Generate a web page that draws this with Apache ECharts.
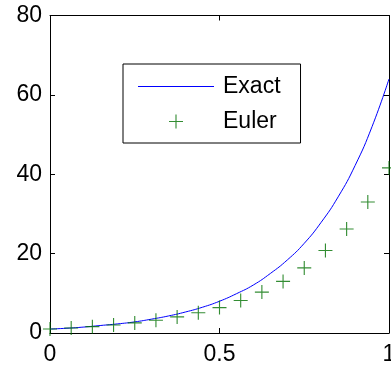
<!DOCTYPE html>
<html>
<head>
<meta charset="utf-8">
<script src="https://cdn.jsdelivr.net/npm/echarts@6/dist/echarts.min.js"></script>
<style>
  html, body { margin: 0; padding: 0; background: #fff; }
  #chart { width: 391px; height: 372px; }
</style>
</head>
<body>
<div id="chart"></div>
<script>
// exact solution
const exactX = [0, 0.05, 0.1, 0.15, 0.2, 0.25, 0.3, 0.35, 0.4, 0.45, 0.5,
  0.55, 0.6, 0.65, 0.7, 0.75, 0.8, 0.85, 0.9, 0.95, 1];
const exactY = [1.0, 1.2, 1.5, 1.9, 2.3, 2.8, 3.5, 4.3, 5.3, 6.5, 8.0,
  9.9, 12.1, 15.0, 18.4, 22.6, 27.9, 34.3, 42.2, 52.0, 64.0];

// Euler steps (h = 1/16)
const eulerX = [0, 0.0625, 0.125, 0.1875, 0.25, 0.3125, 0.375, 0.4375, 0.5,
  0.5625, 0.625, 0.6875, 0.75, 0.8125, 0.875, 0.9375, 1];
const eulerY = [1.0, 1.26, 1.6, 2.0, 2.55, 3.2, 4.05, 5.1, 6.4,
  8.2, 10.3, 13.0, 16.4, 20.8, 26.2, 33.0, 41.6];

const xTicks = [0, 0.5, 1];
const yTicks = [0, 20, 40, 60, 80];

const FONT = 'Liberation Sans, Arial, sans-serif';
const plus = 'path://M0,9.2h20v1.6h-20z M9.2,0h1.6v20h-1.6z';

const chart = echarts.init(document.getElementById('chart'));

const baseX = {
  type: 'value',
  min: xTicks[0], max: xTicks[xTicks.length - 1], interval: 0.5,
  splitLine: { show: false },
  axisLine: { show: true, onZero: false, lineStyle: { color: '#000', width: 1 } },
  axisTick: { show: true, inside: true, length: 5, lineStyle: { color: '#000' } }
};
const baseY = {
  type: 'value',
  min: yTicks[0], max: yTicks[yTicks.length - 1], interval: 20,
  splitLine: { show: false },
  axisLine: { show: true, onZero: false, lineStyle: { color: '#000', width: 1 } },
  axisTick: { show: true, inside: true, length: 5, lineStyle: { color: '#000' } }
};

chart.setOption({
  backgroundColor: '#fff',
  animation: false,
  grid: { left: 50, right: 2, top: 15.5, bottom: 39, outerBoundsMode: 'none', containLabel: false },
  xAxis: [
    { ...baseX, position: 'bottom',
      axisLabel: { fontFamily: FONT, fontSize: 23, color: '#000', margin: 10,
        formatter: v => String(v) } },
    { ...baseX, position: 'top', axisLabel: { show: false } }
  ],
  yAxis: [
    { ...baseY, position: 'left',
      axisLabel: { fontFamily: FONT, fontSize: 23, color: '#000', margin: 8 } },
    { ...baseY, position: 'right', axisLabel: { show: false } }
  ],
  legend: {
    orient: 'vertical',
    left: 123, top: 64,
    padding: [11, 20, 10, 15],
    itemWidth: 76, itemHeight: 14, itemGap: 12,
    borderColor: '#000', borderWidth: 1,
    backgroundColor: '#fff',
    textStyle: { fontFamily: FONT, fontSize: 23, color: '#000', padding: [0, 0, 0, 4] },
    data: [
      { name: 'Exact', icon: 'path://M0,9.75h40v0.5h-40z', itemStyle: { color: '#0000ff' } },
      { name: 'Euler' }
    ]
  },
  series: [
    {
      name: 'Exact', type: 'line',
      data: exactX.map((x, i) => [x, exactY[i]]),
      smooth: true, showSymbol: false, symbol: 'none',
      lineStyle: { color: '#0000ff', width: 1 },
      itemStyle: { color: '#0000ff' },
      z: 2
    },
    {
      name: 'Euler', type: 'scatter',
      data: eulerX.map((x, i) => [x, eulerY[i]]),
      symbol: plus, symbolSize: 14,
      itemStyle: { color: '#007000' },
      clip: false,
      z: 3
    }
  ]
});
</script>
</body>
</html>
